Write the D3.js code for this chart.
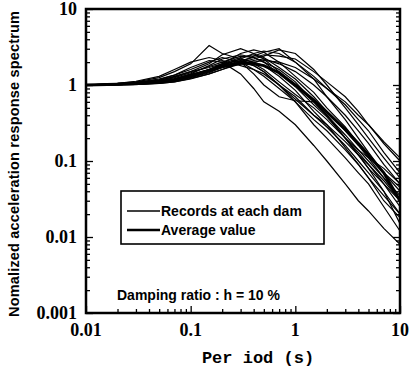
<!DOCTYPE html>
<html>
<head>
<meta charset="utf-8">
<script src="https://cdn.jsdelivr.net/npm/d3@7"></script>
<style>
  body { margin: 0; background: #fff; }
  svg { display: block; }
</style>
</head>
<body>
<div id="chart"></div>
<script>
// periods (s) shared by every curve
const periods = [0.01, 0.02, 0.03, 0.05, 0.07, 0.1, 0.15, 0.2, 0.3, 0.4, 0.5, 0.7, 1, 1.5, 2, 3, 4, 5, 7, 10];

// records at each dam (normalized acceleration response)
const records = [
  [1, 1.02, 1.05, 1.1, 1.2, 1.4, 1.8, 2.2, 2.5, 2.3, 2.0, 1.6, 1.1, 0.6, 0.4, 0.22, 0.14, 0.1, 0.06, 0.035],
  [1, 1.01, 1.03, 1.08, 1.15, 1.3, 1.5, 1.8, 2.2, 2.6, 2.8, 2.6, 2.0, 1.2, 0.7, 0.35, 0.2, 0.13, 0.07, 0.04],
  [1, 1.03, 1.08, 1.2, 1.35, 1.6, 2.0, 2.3, 2.0, 1.6, 1.3, 0.9, 0.6, 0.35, 0.25, 0.14, 0.09, 0.06, 0.035, 0.02],
  [1, 1.0, 1.02, 1.05, 1.1, 1.2, 1.4, 1.6, 1.9, 2.0, 2.1, 2.0, 1.7, 1.2, 0.9, 0.55, 0.35, 0.25, 0.13, 0.07],
  [1, 1.05, 1.1, 1.25, 1.5, 1.9, 3.3, 2.6, 2.2, 1.8, 1.5, 1.0, 0.7, 0.4, 0.28, 0.16, 0.1, 0.07, 0.04, 0.02],
  [1, 1.02, 1.04, 1.1, 1.2, 1.35, 1.6, 1.9, 2.3, 2.5, 2.3, 1.7, 1.2, 0.7, 0.45, 0.25, 0.16, 0.11, 0.06, 0.03],
  [1, 1.01, 1.02, 1.06, 1.12, 1.25, 1.45, 1.7, 2.0, 2.2, 2.4, 2.9, 2.6, 1.6, 1.0, 0.5, 0.3, 0.2, 0.11, 0.06],
  [1, 1.04, 1.07, 1.15, 1.3, 1.5, 1.7, 1.9, 2.1, 1.9, 1.6, 1.1, 0.75, 0.5, 0.35, 0.2, 0.13, 0.09, 0.05, 0.025],
  [1, 1.02, 1.05, 1.12, 1.25, 1.45, 1.75, 2.0, 2.4, 2.3, 2.0, 1.4, 0.95, 0.55, 0.38, 0.2, 0.12, 0.08, 0.04, 0.015],
  [1, 1.01, 1.03, 1.07, 1.14, 1.28, 1.5, 1.75, 2.1, 2.3, 2.5, 2.4, 2.2, 1.5, 1.1, 0.7, 0.45, 0.3, 0.17, 0.1],
  [1, 1.03, 1.06, 1.15, 1.28, 1.5, 1.9, 2.5, 3.0, 2.6, 2.2, 1.5, 1.0, 0.6, 0.4, 0.2, 0.12, 0.08, 0.05, 0.03],
  [1, 1.02, 1.04, 1.1, 1.18, 1.32, 1.55, 1.8, 2.0, 1.8, 1.5, 1.0, 0.6, 0.3, 0.2, 0.11, 0.07, 0.05, 0.025, 0.012],
  [1, 1.01, 1.03, 1.08, 1.15, 1.3, 1.6, 1.9, 2.6, 2.9, 2.7, 2.0, 1.3, 0.8, 0.5, 0.28, 0.17, 0.12, 0.07, 0.045],
  [1, 1.05, 1.12, 1.3, 1.6, 2.0, 2.3, 2.1, 1.8, 1.6, 1.4, 1.0, 0.65, 0.4, 0.3, 0.18, 0.12, 0.09, 0.055, 0.03],
  [1, 1.02, 1.04, 1.09, 1.17, 1.35, 1.6, 1.85, 2.2, 2.0, 1.8, 1.3, 0.85, 0.45, 0.3, 0.15, 0.09, 0.06, 0.03, 0.018],
  [1, 1.01, 1.03, 1.07, 1.13, 1.27, 1.5, 1.7, 1.9, 2.1, 2.2, 1.9, 1.5, 1.0, 0.7, 0.4, 0.25, 0.17, 0.09, 0.05],
  [1, 1.03, 1.07, 1.18, 1.35, 1.7, 2.1, 2.0, 1.4, 0.9, 0.6, 0.45, 0.3, 0.16, 0.1, 0.05, 0.03, 0.022, 0.013, 0.008],
  [1, 1.02, 1.04, 1.09, 1.16, 1.3, 1.55, 1.8, 2.0, 1.4, 1.0, 0.7, 0.62, 0.6, 0.4, 0.2, 0.14, 0.11, 0.08, 0.05],
  [1, 1.01, 1.02, 1.05, 1.1, 1.22, 1.4, 1.6, 2.0, 2.4, 2.7, 3.0, 2.0, 1.3, 0.9, 0.6, 0.4, 0.3, 0.18, 0.11]
];

// average value
const average = [1, 1.02, 1.04, 1.1, 1.18, 1.35, 1.55, 1.75, 1.95, 1.9, 1.8, 1.45, 1.0, 0.63, 0.44, 0.26, 0.17, 0.12, 0.07, 0.03];

const xTicks = [0.01, 0.1, 1, 10];
const xTickLabels = ['0.01', '0.1', '1', '10'];
const yTicks = [0.001, 0.01, 0.1, 1, 10];
const yTickLabels = ['0.001', '0.01', '0.1', '1', '10'];
const legendLabels = ['Records at each dam', 'Average value'];

const W = 410, H = 369;
const plotL = 86, plotR = 400, plotT = 9, plotB = 313;

const x = d3.scaleLog().domain([0.01, 10]).range([plotL, plotR]);
const y = d3.scaleLog().domain([0.001, 10]).range([plotB, plotT]);

const svg = d3.select('#chart').append('svg')
  .attr('width', W)
  .attr('height', H);

svg.append('clipPath').attr('id', 'clip')
  .append('rect')
  .attr('x', plotL).attr('y', plotT)
  .attr('width', plotR - plotL).attr('height', plotB - plotT);

const line = d3.line()
  .x((d, i) => x(periods[i]))
  .y((d) => y(d));

const plot = svg.append('g').attr('clip-path', 'url(#clip)');

plot.selectAll('.rec')
  .data(records)
  .enter().append('path')
  .attr('class', 'rec')
  .attr('fill', 'none')
  .attr('stroke', '#000')
  .attr('stroke-width', 1.2)
  .attr('d', line);

plot.append('path')
  .datum(average)
  .attr('fill', 'none')
  .attr('stroke', '#000')
  .attr('stroke-width', 3)
  .attr('d', line);

// minor/major ticks, all inward
const minorX = [];
const minorY = [];
for (let e = -2; e < 1; e++) for (let m = 2; m < 10; m++) minorX.push(m * Math.pow(10, e));
for (let e = -3; e < 1; e++) for (let m = 2; m < 10; m++) minorY.push(m * Math.pow(10, e));

[[d3.axisRight(y).tickValues(yTicks).tickSize(7), plotL, 0],
 [d3.axisRight(y).tickValues(minorY).tickSize(4), plotL, 0],
 [d3.axisLeft(y).tickValues(yTicks).tickSize(7), plotR, 0],
 [d3.axisLeft(y).tickValues(minorY).tickSize(4), plotR, 0],
 [d3.axisTop(x).tickValues(xTicks).tickSize(7), 0, plotB],
 [d3.axisTop(x).tickValues(minorX).tickSize(4), 0, plotB]
].forEach(([ax, tx, ty]) => {
  const g = svg.append('g')
    .attr('transform', `translate(${tx},${ty})`)
    .call(ax.tickFormat(''));
  g.select('.domain').remove();
  g.selectAll('line').attr('stroke', '#000').attr('stroke-width', 1.3);
});

// frame
svg.append('rect')
  .attr('x', plotL).attr('y', plotT)
  .attr('width', plotR - plotL).attr('height', plotB - plotT)
  .attr('fill', 'none')
  .attr('stroke', '#000')
  .attr('stroke-width', 2.5);

// tick labels
svg.selectAll('.ylab')
  .data(yTicks)
  .enter().append('text')
  .attr('class', 'ylab')
  .attr('x', 77)
  .attr('y', (d) => y(d) + 6)
  .attr('text-anchor', 'end')
  .style('font-family', '"Liberation Serif", serif')
  .style('font-weight', 'bold')
  .style('font-size', '18px')
  .text((d, i) => yTickLabels[i]);

svg.selectAll('.xlab')
  .data(xTicks)
  .enter().append('text')
  .attr('class', 'xlab')
  .attr('x', (d) => x(d))
  .attr('y', 336)
  .attr('text-anchor', 'middle')
  .style('font-family', '"Liberation Serif", serif')
  .style('font-weight', 'bold')
  .style('font-size', '18px')
  .text((d, i) => xTickLabels[i]);

// axis titles
svg.append('text')
  .attr('x', 258)
  .attr('y', 363)
  .attr('text-anchor', 'middle')
  .style('font-family', '"Liberation Mono", monospace')
  .style('font-weight', 'bold')
  .style('font-size', '17px')
  .text('Per iod (s)');

svg.append('text')
  .attr('transform', 'translate(19,164) rotate(-90)')
  .attr('text-anchor', 'middle')
  .attr('textLength', 306)
  .attr('lengthAdjust', 'spacing')
  .style('font-family', '"Liberation Sans", Arial, sans-serif')
  .style('font-weight', 'bold')
  .style('font-size', '14.5px')
  .text('Nomalized acceleration response spectrum');

// legend
const legend = svg.append('g');
legend.append('rect')
  .attr('x', 121).attr('y', 191)
  .attr('width', 203).attr('height', 53)
  .attr('fill', '#fff')
  .attr('stroke', '#000')
  .attr('stroke-width', 1.6);

legendLabels.forEach((lab, i) => {
  const ly = 211 + i * 19;
  legend.append('line')
    .attr('x1', 127).attr('x2', 160)
    .attr('y1', ly).attr('y2', ly)
    .attr('stroke', '#000')
    .attr('stroke-width', i === 0 ? 1.3 : 2.5);
  legend.append('text')
    .attr('x', 161)
    .attr('y', ly + 5)
    .style('font-family', '"Liberation Sans", Arial, sans-serif')
    .style('font-weight', 'bold')
    .style('font-size', '14px')
    .text(lab);
});

svg.append('text')
  .attr('x', 117)
  .attr('y', 300)
  .style('font-family', '"Liberation Sans", Arial, sans-serif')
  .style('font-weight', 'bold')
  .style('font-size', '14px')
  .text('Damping ratio : h = 10 %');
</script>
</body>
</html>
